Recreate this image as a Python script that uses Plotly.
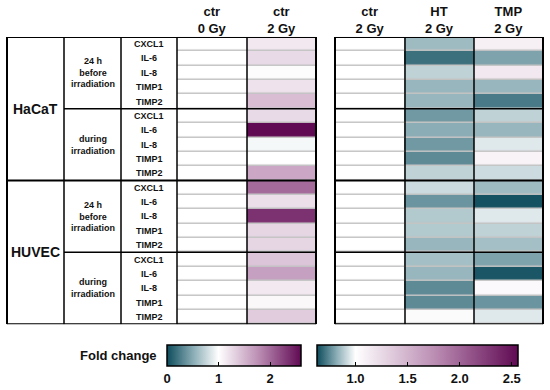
import plotly.graph_objects as go

W, H = 550, 390
FONT = "Liberation Sans, Arial, sans-serif"

genes = ["CXCL1", "IL-6", "IL-8", "TIMP1", "TIMP2"]
timings = ["24 h<br>before<br>irradiation", "during<br>irradiation"]
cell_lines = ["HaCaT", "HUVEC"]

left_cols = ["ctr<br>0 Gy", "ctr<br>2 Gy"]
right_cols = ["ctr<br>2 Gy", "HT<br>2 Gy", "TMP<br>2 Gy"]

# fold change values, row order: HaCaT 24h, HaCaT during, HUVEC 24h, HUVEC during (5 genes each)
ctr0 = [1.0] * 20
ctr2_left = [1.15, 1.25, 1.02, 1.20, 1.45,
             1.25, 2.60, 0.96, 1.00, 1.60,
             2.00, 1.22, 2.35, 1.28, 1.28,
             1.40, 1.65, 1.15, 1.05, 1.35]
ctr2_right = [1.0] * 20
ht = [0.85, 0.70, 0.90, 0.84, 0.84,
      0.78, 0.82, 0.78, 0.75, 0.90,
      0.92, 0.77, 0.88, 0.88, 0.84,
      0.86, 0.84, 0.75, 0.75, 1.03]
tmp = [1.10, 0.80, 1.15, 0.84, 0.72,
       0.90, 0.84, 0.95, 1.08, 0.92,
       0.85, 0.64, 0.95, 0.90, 0.86,
       0.80, 0.65, 1.04, 0.77, 0.95]

left_range = (0.0, 2.6)
right_range = (0.63, 2.56)
left_ticks = [0, 1, 2]
right_ticks = [1.0, 1.5, 2.0, 2.5]


def make_scale(zmin, zmax):
    def pos(v):
        return (v - zmin) / (zmax - zmin)
    return [
        [0.0, "#0d4c5c"],
        [pos(zmin + (1 - zmin) * 0.5), "#88abb4"],
        [pos(1.0), "#ffffff"],
        [pos(1 + (zmax - 1) * 0.5), "#b98ab1"],
        [1.0, "#600a53"],
    ]


nrows = len(ctr0)
rows = list(range(nrows))


def px_x(p):
    return p / W


def px_y(p):
    return 1 - p / H


fig = go.Figure()

zl = [[ctr0[i], ctr2_left[i]] for i in rows]
zr = [[ctr2_right[i], ht[i], tmp[i]] for i in rows]

fig.add_trace(go.Heatmap(z=zl, x=left_cols, y=rows, coloraxis="coloraxis",
                         ygap=1.5, xaxis="x", yaxis="y", hoverinfo="skip"))
fig.add_trace(go.Heatmap(z=zr, x=right_cols, y=rows, coloraxis="coloraxis2",
                         ygap=1.5, xaxis="x2", yaxis="y2", hoverinfo="skip"))

top, bottom = 37, 325
L0, L1 = 177, 316
R0, R1 = 335, 543

axis_common = dict(side="top", showgrid=False, zeroline=False, ticks="",
                   tickfont=dict(family=FONT, size=13, color="#111111"),
                   showline=False)
yaxis_common = dict(range=[nrows - 0.5, -0.5], showgrid=False, zeroline=False,
                    showticklabels=False, ticks="", showline=False)

cb_common = dict(orientation="h", thicknessmode="pixels", thickness=21,
                 lenmode="pixels", xanchor="left", yanchor="top",
                 xpad=0, ypad=0, outlinecolor="black", outlinewidth=1.5,
                 ticks="inside", ticklen=4, tickcolor="black", tickwidth=1.2,
                 tickfont=dict(family=FONT, size=13, color="#111111"))

fig.update_layout(
    width=W, height=H,
    margin=dict(l=0, r=0, t=0, b=0),
    paper_bgcolor="white",
    plot_bgcolor="#c4c4c4",
    font=dict(family=FONT, color="#111111"),
    xaxis=dict(domain=[px_x(L0), px_x(L1)], anchor="y", **axis_common),
    yaxis=dict(domain=[px_y(bottom), px_y(top)], anchor="x", **yaxis_common),
    xaxis2=dict(domain=[px_x(R0), px_x(R1)], anchor="y2", **axis_common),
    yaxis2=dict(domain=[px_y(bottom), px_y(top)], anchor="x2", **yaxis_common),
    coloraxis=dict(colorscale=make_scale(*left_range), cmin=left_range[0], cmax=left_range[1],
                   colorbar=dict(x=px_x(167), y=px_y(345), len=134,
                                 tickvals=left_ticks,
                                 ticktext=[f"<b>{t}</b>" for t in left_ticks],
                                 **cb_common)),
    coloraxis2=dict(colorscale=make_scale(*right_range), cmin=right_range[0], cmax=right_range[1],
                    colorbar=dict(x=px_x(317), y=px_y(345), len=201,
                                  tickvals=right_ticks,
                                  ticktext=[f"<b>{t:.1f}</b>" for t in right_ticks],
                                  **cb_common)),
)

shapes = []


def hline(y, x0, x1, w):
    shapes.append(dict(type="line", xref="paper", yref="y", x0=px_x(x0), x1=px_x(x1),
                       y0=y, y1=y, line=dict(color="black", width=w)))


def vline(x, w):
    shapes.append(dict(type="line", xref="paper", yref="y", x0=px_x(x), x1=px_x(x),
                       y0=-0.5, y1=nrows - 0.5, line=dict(color="black", width=w)))


# left table
for x, w in [(7, 2), (64, 1.5), (121, 1.5), (177, 1.5), (247, 1.5), (316, 2)]:
    vline(x, w)
for y, w in [(-0.5, 2), (nrows - 0.5, 2), (9.5, 2)]:
    hline(y, 7, 316, w)
for y in [4.5, 14.5]:
    hline(y, 64, 316, 1.5)
# right table
for x, w in [(335, 2), (405, 1.5), (474, 1.5), (543, 2)]:
    vline(x, w)
for y, w in [(-0.5, 2), (nrows - 0.5, 2), (9.5, 2), (4.5, 1.5), (14.5, 1.5)]:
    hline(y, 335, 543, w)

fig.update_layout(shapes=shapes)

ann = []
# gene labels
for i in rows:
    ann.append(dict(x=px_x(149), xref="paper", y=i, yref="y", text=f"<b>{genes[i % 5]}</b>",
                    xanchor="center", yanchor="middle", showarrow=False,
                    font=dict(family=FONT, size=9, color="#111111")))
# timing labels
for g in range(4):
    ann.append(dict(x=px_x(92.5), xref="paper", y=g * 5 + 2, yref="y",
                    text=f"<b>{timings[g % 2]}</b>", showarrow=False,
                    xanchor="center", yanchor="middle",
                    font=dict(family=FONT, size=9, color="#111111")))
# cell line labels
for c in range(2):
    ann.append(dict(x=px_x(35.5), xref="paper", y=c * 10 + 4.5, yref="y",
                    text=f"<b>{cell_lines[c]}</b>", showarrow=False,
                    xanchor="center", yanchor="middle",
                    font=dict(family=FONT, size=14, color="#111111")))
ann.append(dict(x=px_x(159), xref="paper", y=px_y(356), yref="paper",
                xanchor="right", yanchor="middle",
                text="<b>Fold change</b>", showarrow=False,
                font=dict(family=FONT, size=13, color="#111111")))
fig.update_layout(annotations=ann)

fig.update_xaxes(tickprefix="<b>", ticksuffix="</b>")

fig.write_html("out.html", config={"displayModeBar": False},
               post_script="document.body.style.margin='0';")
